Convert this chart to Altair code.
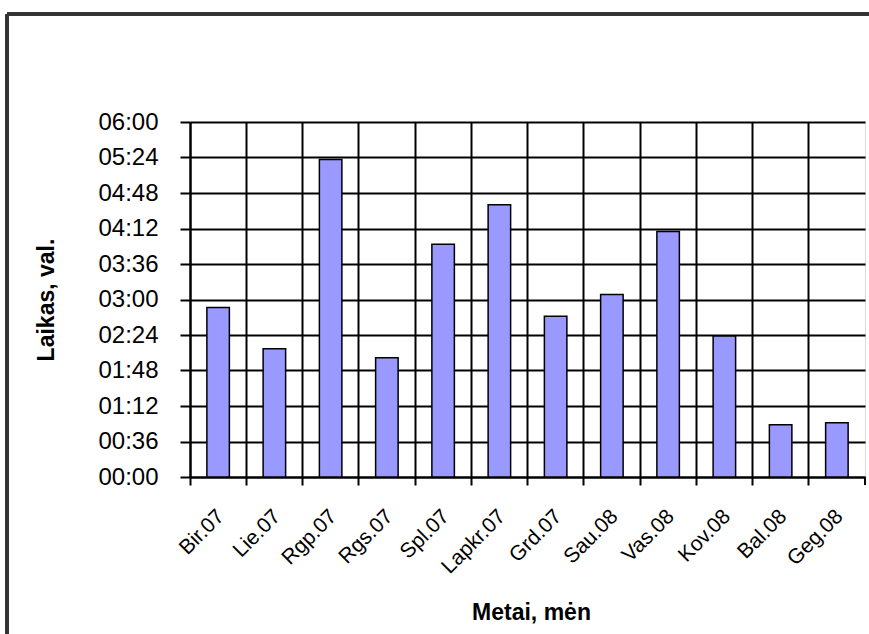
import altair as alt
import pandas as pd

# Monthly downtime, Lithuanian month abbreviations (June 2007 - May 2008)
months = ["Bir.07", "Lie.07", "Rgp.07", "Rgs.07", "Spl.07", "Lapkr.07",
          "Grd.07", "Sau.08", "Vas.08", "Kov.08", "Bal.08", "Geg.08"]
durations = ["02:52", "02:10", "05:22", "02:01", "03:56", "04:36",
             "02:43", "03:05", "04:09", "02:23", "00:53", "00:55"]
y_ticks = [0, 36, 72, 108, 144, 180, 216, 252, 288, 324, 360]

minutes = [int(d.split(":")[0]) * 60 + int(d.split(":")[1]) for d in durations]
df = pd.DataFrame({"men": months, "laikas": durations, "min": minutes})

W, H = 675, 355
PAD_L, PAD_T = 190, 122
FONT = "Liberation Sans"

hhmm = ("(floor(datum.value/60) < 10 ? '0' : '') + floor(datum.value/60) + ':' + "
        "(datum.value % 60 < 10 ? '0' : '') + (datum.value % 60)")

bars = alt.Chart(df).mark_bar(
    width=alt.RelativeBandSize(0.4), color="#9999ff", stroke="black", strokeWidth=1.5
).encode(
    x=alt.X("men:N", sort=months,
            scale=alt.Scale(paddingInner=0, paddingOuter=0),
            axis=alt.Axis(title="Metai, mėn", bandPosition=0, labelOffset=3,
                          labelAngle=-45, labelAlign="right", labelBaseline="middle",
                          labelPadding=28, labelFontSize=21, labelFont=FONT,
                          labelColor="black", tickSize=8, tickColor="black",
                          tickWidth=2, grid=True, gridColor="black", gridWidth=2,
                          gridOpacity=1, domainColor="black", domainWidth=2,
                          titleFont=FONT, titleFontSize=23, titleFontWeight="bold",
                          titleColor="black", titleX=341, titleY=142,
                          titleBaseline="alphabetic", titleAlign="center")),
    y=alt.Y("min:Q", scale=alt.Scale(domain=[0, 360], nice=False),
            axis=alt.Axis(title="Laikas, val.", values=y_ticks, labelExpr=hhmm,
                          labelFontSize=24, labelFont=FONT, labelColor="black",
                          labelPadding=22, tickSize=10, tickColor="black",
                          tickWidth=2, grid=True, gridColor="black", gridWidth=2,
                          gridOpacity=1, domainColor="black", domainWidth=2,
                          titleFont=FONT, titleFontSize=23, titleFontWeight="bold",
                          titleColor="black", titleX=-137, titleY=H / 2,
                          titleBaseline="alphabetic", titleAlign="center",
                          titleAngle=-90)),
    tooltip=["men", "laikas"],
)

# closing tick at the right end of the category axis
end_tick = alt.Chart(df).mark_rule(color="black", strokeWidth=2).encode(
    x=alt.value(W), y=alt.value(H), y2=alt.value(H + 8)
)

# chart-area frame (left and top edges)
frame_left = alt.Chart(df).mark_rule(color="#333333", strokeWidth=2.5).encode(
    x=alt.value(7 - PAD_L), y=alt.value(14 - PAD_T), y2=alt.value(700)
)
frame_top = alt.Chart(df).mark_rule(color="#333333", strokeWidth=2.5).encode(
    x=alt.value(7 - PAD_L), x2=alt.value(900), y=alt.value(14 - PAD_T)
)

chart = alt.layer(bars, end_tick, frame_left, frame_top).properties(
    width=W, height=H,
    padding={"left": PAD_L, "top": PAD_T, "right": 869 - PAD_L - W,
             "bottom": 634 - PAD_T - H},
    autosize=alt.AutoSizeParams(type="none"),
).configure_view(stroke="black", strokeWidth=2).configure(background="white")

chart.save("out.html", embed_options={"renderer": "svg", "actions": False})
